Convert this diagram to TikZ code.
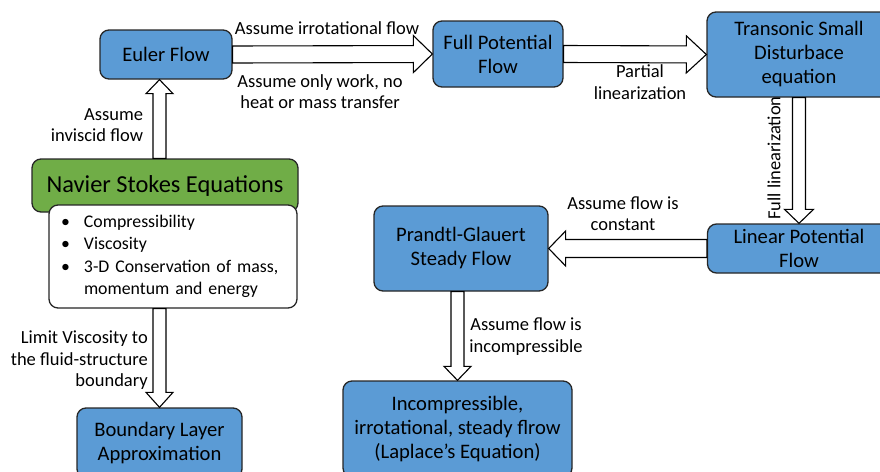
\documentclass[tikz,border=0pt]{standalone}
\usepackage{fontspec}
\setmainfont{Carlito}
\usepackage{tikz}
\usetikzlibrary{calc}
\definecolor{boxblue}{RGB}{91,155,213}
\definecolor{boxgreen}{RGB}{112,173,71}

\newcommand{\hollowarrow}[5]{%
  \path (#1) coordinate (ha-s) (#2) coordinate (ha-t);
  \path ($(ha-t)!#5pt!(ha-s)$) coordinate (ha-b);
  \draw[fat] ($(ha-s)!#3pt!90:(ha-t)$) -- ($(ha-b)!#3pt!-90:(ha-s)$) -- ($(ha-b)!#4pt!-90:(ha-s)$)
    -- (ha-t) -- ($(ha-b)!#4pt!90:(ha-s)$) -- ($(ha-b)!#3pt!90:(ha-s)$) -- ($(ha-s)!#3pt!-90:(ha-t)$) -- cycle;}

\begin{document}
\begin{tikzpicture}[x=1pt,y=-1pt,
    box/.style={draw=black!85,line width=1.3pt,rounded corners=9pt,fill=boxblue,align=center,inner sep=0pt,font=\fontsize{20.6}{24}\selectfont},
    lbl/.style={inner sep=0pt,font=\fontsize{18.5}{21.5}\selectfont},
    fat/.style={draw=black,line width=1.1pt,fill=white,line join=miter}]
    \useasboundingbox (0,0) rectangle (880,471);
    \clip (0,0) rectangle (880,471);
    \node[box,minimum width=132pt,minimum height=49pt] (euler) at (166,54.5) {Euler Flow};
    \node[box,minimum width=130pt,minimum height=66pt] (fullpot) at (498,54) {Full Potential\\Flow};
    \node[box,minimum width=184pt,minimum height=85pt] (trans) at (799,54.5) {Transonic Small\\Disturbace\\equation};
    \node[box,fill=boxgreen,minimum width=266pt,minimum height=53pt,font=\fontsize{24.4}{28}\selectfont] (navier) at (165,185.5) {Navier Stokes Equations};
    \node[box,fill=white,text width=224pt,inner xsep=12pt,minimum height=103pt,align=left,font=\fontsize{17.8}{22.5}\selectfont] (facts) at (173,256.5)
        {\begin{tabular}{@{}p{23pt}@{}l@{}}
         \textbullet & Compressibility\\
         \textbullet & Viscosity\\
         \textbullet & 3-D Conservation of mass,\\
                     & momentum and energy
         \end{tabular}};
    \node[box,minimum width=165pt,minimum height=70pt] (bl) at (159.5,443) {Boundary Layer\\Approximation};
    \node[box,minimum width=174pt,minimum height=85pt] (pg) at (461,248.5) {Prandtl-Glauert\\Steady Flow};
    \node[box,minimum width=183pt,minimum height=49pt] (linear) at (799,248.5) {Linear Potential\\Flow};
    \node[box,minimum width=229pt,minimum height=96pt] (incomp) at (457.5,429) {Incompressible,\\irrotational, steady flrow\\(Laplace’s Equation)};

    \hollowarrow{euler.east}{fullpot.west}{8.5}{18.5}{19}
    \hollowarrow{fullpot.east}{trans.west}{8.5}{18.5}{20}
    \hollowarrow{navier.north -| bl.north}{euler.south -| bl.north}{6.5}{13.5}{14}
    \hollowarrow{facts.south -| bl.north}{bl.north}{6.5}{13.5}{15}
    \hollowarrow{trans.south}{linear.north}{6.5}{14.5}{14}
    \hollowarrow{linear.west}{pg.east}{9}{17.5}{17}
    \hollowarrow{pg.south -| incomp.north}{incomp.north}{6.5}{13.5}{14}

    \node[lbl,anchor=base] (irrot) at (327,34.5) {Assume irrotational flow};
    \node[lbl,align=center] (work) at (320,91.6) {Assume only work, no\\heat or mass transfer};
    \node[lbl,align=center] (partial) at (640,82.1) {Partial\\linearization};
    \node[lbl,align=right,anchor=east] (inviscid) at (143.3,125) {Assume\\inviscid flow};
    \node[lbl,align=right,anchor=east] (limit) at (148,360.6) {Limit Viscosity to\\the fluid-structure\\boundary};
    \node[lbl,align=center] (constant) at (623,213.9) {Assume flow is\\constant};
    \node[lbl,align=center] (incompr) at (526,336.6) {Assume flow is\\incompressible};
    \node[lbl,rotate=90] (fulllin) at (774,158) {Full linearization};
\end{tikzpicture}
\end{document}
